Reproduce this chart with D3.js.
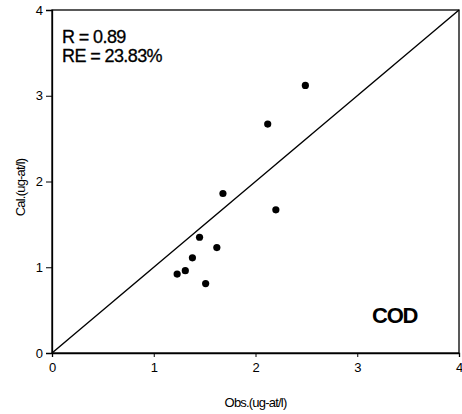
<!DOCTYPE html>
<html>
<head>
<meta charset="utf-8">
<script src="https://cdn.jsdelivr.net/npm/d3@7"></script>
<style>
  body { margin: 0; background: #fff; }
  text { font-family: "Liberation Sans", Arial, sans-serif; fill: #000; }
</style>
</head>
<body>
<svg width="462" height="414"></svg>
<script>
const obs = [2.49, 2.12, 1.68, 2.20, 1.45, 1.62, 1.38, 1.31, 1.23, 1.51];
const cal = [3.12, 2.67, 1.86, 1.67, 1.35, 1.23, 1.11, 0.96, 0.92, 0.81];
const ticks = [0, 1, 2, 3, 4];
const stats = ["R = 0.89", "RE = 23.83%"];
const label = "COD";

const svg = d3.select("svg");
const margin = { top: 10, right: 3, bottom: 61, left: 52 };
const width = +svg.attr("width");
const height = +svg.attr("height");
const innerWidth = width - margin.left - margin.right;
const innerHeight = height - margin.top - margin.bottom;

const xScale = d3.scaleLinear().domain([0, 4]).range([0, innerWidth]);
const yScale = d3.scaleLinear().domain([0, 4]).range([innerHeight, 0]);

const g = svg.append("g")
  .attr("transform", `translate(${margin.left},${margin.top})`);

// frame
g.append("rect")
  .attr("width", innerWidth)
  .attr("height", innerHeight)
  .attr("fill", "none")
  .attr("stroke", "#000")
  .attr("stroke-width", 1.3);

const xAxis = d3.axisBottom(xScale).tickValues(ticks).tickSize(4).tickPadding(6).tickFormat(d3.format("d"));
const yAxis = d3.axisLeft(yScale).tickValues(ticks).tickSize(6).tickPadding(3).tickFormat(d3.format("d"));

const xAxisG = g.append("g").attr("transform", `translate(0,${innerHeight})`).call(xAxis);
const yAxisG = g.append("g").call(yAxis);
[xAxisG, yAxisG].forEach((a) => {
  a.select(".domain").attr("stroke-width", 1.3);
  a.selectAll("text").style("font-size", "13px").style("font-family", "'Liberation Sans', Arial, sans-serif");
});

// 1:1 line
g.append("line")
  .attr("x1", xScale(0)).attr("y1", yScale(0))
  .attr("x2", xScale(4)).attr("y2", yScale(4))
  .attr("stroke", "#000")
  .attr("stroke-width", 1.4);

g.selectAll("circle")
  .data(obs)
  .join("circle")
  .attr("cx", (d) => xScale(d))
  .attr("cy", (d, i) => yScale(cal[i]))
  .attr("r", 3.6)
  .attr("fill", "#000");

g.selectAll(".stat")
  .data(stats)
  .join("text")
  .attr("class", "stat")
  .attr("x", 10)
  .attr("y", (d, i) => 33 + i * 19)
  .style("font-size", "18px")
  .style("letter-spacing", "-0.6px")
  .style("stroke", "#000")
  .style("stroke-width", 0.3)
  .text((d) => d);

g.append("text")
  .attr("x", 320)
  .attr("y", 313)
  .style("font-size", "22px")
  .style("font-weight", "bold")
  .style("letter-spacing", "-1.2px")
  .text(label);

svg.append("text")
  .attr("x", margin.left + innerWidth / 2)
  .attr("y", 407)
  .attr("text-anchor", "middle")
  .style("font-size", "13px")
  .style("letter-spacing", "-0.8px")
  .text("Obs.(ug-at/l)");

svg.append("text")
  .attr("transform", `translate(25,${margin.top + innerHeight / 2 + 6}) rotate(-90)`)
  .attr("text-anchor", "middle")
  .style("font-size", "13px")
  .style("letter-spacing", "-0.8px")
  .text("Cal.(ug-at/l)");
</script>
</body>
</html>
